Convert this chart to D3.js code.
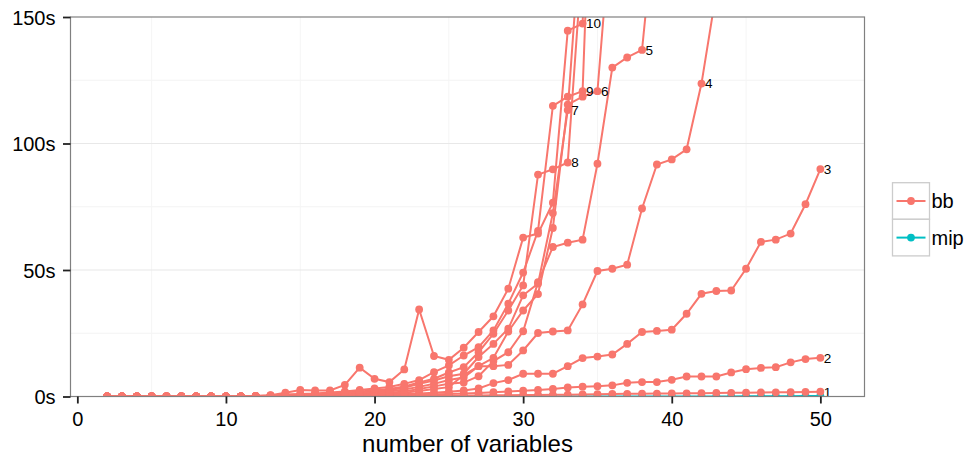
<!DOCTYPE html>
<html><head><meta charset="utf-8">
<script src="https://cdn.jsdelivr.net/npm/d3@7"></script>
<style>
body{margin:0;background:#fff}
svg{display:block}
text{font-family:"Liberation Sans",Arial,Helvetica,sans-serif}
</style>
</head><body>
<svg id="c" width="971" height="457"></svg>
<script>
// ---- data ----
const xStart = 2;                       // every series starts at 2 variables
const xTicks = [0, 10, 20, 30, 40, 50];
const xMinor = [5, 15, 25, 35, 45];
const yTicks = [0, 50, 100, 150];
const yTickLabels = ["0s", "50s", "100s", "150s"];
const yMinor = [25, 75, 125];
const solvers = ["bb", "mip"];
const xTitle = "number of variables";

// bb solver times (seconds) for x = 2,3,4,...
const bb1 = [0,0,0,0,0,0,0,0,0,0,0,0.01,0.02,0.03,0.05,0.07,0.1,0.12,0.15,0.18,0.2,0.25,0.3,0.32,0.35,0.4,0.45,0.5,0.6,0.62,0.65,0.7,0.8,0.9,1.0,1.05,1.1,1.15,1.2,1.25,1.3,1.4,1.45,1.5,1.6,1.65,1.7,1.8,1.9];
const bb2 = [0,0,0,0,0,0,0,0,0,0.02,0.03,0.05,0.08,0.1,0.15,0.2,0.25,0.3,0.4,0.5,0.6,0.75,0.9,1.0,1.2,1.4,1.7,2.0,2.3,2.6,3.0,3.6,3.9,4.1,4.4,5.4,5.7,5.7,6.6,7.9,7.9,7.9,9.5,10.8,11.3,11.6,13.5,14.8,15.3];
const bb3 = [0,0,0,0,0,0,0,0,0,0,0,0.05,0.1,0.15,0.2,0.3,0.4,0.5,0.6,0.7,0.9,1.2,1.5,1.9,2.4,3.2,5.3,6.5,9.0,9.0,9.0,12.0,15.2,15.8,16.6,20.8,25.5,25.9,26.4,32.7,40.6,41.7,41.9,50.5,61.1,62.0,64.4,76.0,89.9];
const bb4 = [0,0,0,0,0,0,0,0,0,0,0.05,0.1,0.2,0.3,0.4,0.5,0.6,0.75,0.9,1.1,1.5,2.2,3.0,3.7,8.5,12.0,12.0,12.5,18.2,25.1,25.7,26.1,36.4,49.6,50.5,52.1,74.3,91.7,93.7,97.7,123.7,160];
const bb5 = [0,0,0,0,0,0,0,0,0,0,0.05,0.1,0.2,0.4,0.5,0.6,0.8,1.0,1.2,1.5,2.0,3.0,4.0,5.0,5.5,8.0,14.0,17.5,25.8,45.2,59.1,60.8,62.0,92.0,130,134,137,196];
const bb6 = [0,0,0,0,0,0,0,0,0,0,0.1,0.2,0.4,0.5,0.6,0.8,1.0,1.3,1.6,2.0,2.8,3.8,5.0,6.5,7.5,12.0,15.3,25.7,34.0,40.5,66.6,115.4,118.5,120.7,193];
const bb7 = [0,0,0,0,0,0,0,0,0,0,0.1,0.2,0.5,0.6,0.8,1.0,1.3,1.6,2.0,2.6,3.5,5.0,6.3,8.0,9.0,15.6,20.8,26.8,40.0,44.6,72.5,113.2,195];
const bb8 = [0,0,0,0,0,0,0,0,0,0,0.15,0.3,0.6,0.8,1.0,1.3,1.6,2.0,2.5,3.0,4.0,5.5,7.0,9.5,11.6,17.5,24.8,34.0,43.9,87.7,89.8,92.5,175];
const bb9 = [0,0,0,0,0,0,0,0,0,0,0.2,0.4,0.8,1.0,1.2,1.6,2.0,2.6,3.2,3.8,5.0,6.5,9.6,12.3,16.2,19.5,26.1,36.7,49.0,65.5,114.9,118.5,120.7,280];
const bb10 = [0,0,0,0,0,0,0,0,0,0,0.2,0.5,1.5,2.6,2.4,2.4,4.6,11.4,7.0,5.7,10.7,34.4,16.0,14.5,19.3,25.5,31.7,42.6,62.8,64.4,76.6,144.6,147.4,300];
const bbSeries = [bb1, bb2, bb3, bb4, bb5, bb6, bb7, bb8, bb9, bb10];
const bbNames = ["1","2","3","4","5","6","7","8","9","10"];
// mip solver times (seconds), x = 2..50
const mip1 = [0,0,0,0,0,0,0,0,0,0,0,0,0,0,0,0,0,0,0,0,0,0,0,0,0,0,0,0,0,0,0,0,0,0,0,0,0,0,0,0,0,0,0,0.05,0.07,0.1,0.12,0.15,0.2];

// ---- layout ----
const colors = {bb: "#F8766D", mip: "#00BFC4"};
const P = {left: 70.5, right: 864.5, top: 17, bottom: 396.5};
const svg = d3.select("#c");
const x = d3.scaleLinear().domain([-0.46, 52.97]).range([P.left, P.right]);
const y = d3.scaleLinear().domain([0, 150]).range([P.bottom, P.top]);

svg.append("defs").append("clipPath").attr("id", "pc")
  .append("rect").attr("x", P.left).attr("y", P.top)
  .attr("width", P.right - P.left).attr("height", P.bottom - P.top);

// grid
const g = svg.append("g");
g.selectAll(".hm").data(yMinor).join("line")
  .attr("x1", P.left).attr("x2", P.right)
  .attr("y1", d => y(d)).attr("y2", d => y(d))
  .attr("stroke", "#F3F3F3").attr("stroke-width", 1);
g.selectAll(".vm").data(xMinor).join("line")
  .attr("y1", P.top).attr("y2", P.bottom)
  .attr("x1", d => x(d)).attr("x2", d => x(d))
  .attr("stroke", "#F5F5F5").attr("stroke-width", 1);
g.selectAll(".hM").data(yTicks.slice(1, -1)).join("line")
  .attr("x1", P.left).attr("x2", P.right)
  .attr("y1", d => y(d)).attr("y2", d => y(d))
  .attr("stroke", "#E8E8E8").attr("stroke-width", 1.1);

// data
const toPts = arr => arr.map((v, i) => ({x: xStart + i, y: v}));
const line = d3.line().x(d => x(d.x)).y(d => y(d.y));
const plot = svg.append("g").attr("clip-path", "url(#pc)");
const mipPts = toPts(mip1);
const bbPts = bbSeries.map(toPts);

plot.append("path").attr("d", line(mipPts)).attr("fill", "none")
  .attr("stroke", colors.mip).attr("stroke-width", 2);
bbPts.forEach(p => plot.append("path").attr("d", line(p)).attr("fill", "none")
  .attr("stroke", colors.bb).attr("stroke-width", 2));
plot.selectAll(".mp").data(mipPts).join("circle")
  .attr("cx", d => x(d.x)).attr("cy", d => y(d.y)).attr("r", 3.9).attr("fill", colors.mip);
bbPts.forEach(p => plot.selectAll(null).data(p).join("circle")
  .attr("cx", d => x(d.x)).attr("cy", d => y(d.y)).attr("r", 3.9).attr("fill", colors.bb));

// series labels at last point below the top limit
bbPts.forEach((p, i) => {
  const inside = p.filter(d => d.y <= 150);
  const last = inside[inside.length - 1];
  svg.append("text").attr("x", x(last.x) + 3.5).attr("y", y(last.y))
    .attr("dy", "0.36em").attr("font-size", 13.5).attr("fill", "#000")
    .text(bbNames[i]);
});

// panel border
svg.append("rect").attr("x", P.left).attr("y", P.top)
  .attr("width", P.right - P.left).attr("height", P.bottom - P.top)
  .attr("fill", "none").attr("stroke", "#808080").attr("stroke-width", 1.2);

// axes
const ax = svg.append("g").attr("transform", `translate(0,${P.bottom})`)
  .call(d3.axisBottom(x).tickValues(xTicks).tickSize(7).tickPadding(8.4));
const ay = svg.append("g").attr("transform", `translate(${P.left},0)`)
  .call(d3.axisLeft(y).tickValues(yTicks).tickSize(7.5).tickPadding(7.5)
    .tickFormat((d, i) => yTickLabels[i]));
[ax, ay].forEach(a => {
  a.select(".domain").remove();
  a.selectAll(".tick line").attr("stroke", "#222").attr("stroke-width", 1.8);
  a.selectAll(".tick text").attr("font-size", 20).attr("fill", "#000")
    .attr("font-family", '"Liberation Sans",Arial,sans-serif');
});
ay.selectAll(".tick text").attr("dy", "0.36em");

svg.append("text").attr("x", (P.left + P.right) / 2).attr("y", 452)
  .attr("text-anchor", "middle").attr("font-size", 24).attr("fill", "#000")
  .text(xTitle);

// legend
const lg = svg.append("g");
solvers.forEach((s, i) => {
  const ky = 182.7 + i * 36.6;
  lg.append("rect").attr("x", 892.5).attr("y", ky).attr("width", 37).attr("height", 36.6)
    .attr("fill", "#fff").attr("stroke", "#CCCCCC").attr("stroke-width", 1.3);
  const cy = ky + 18.3;
  lg.append("line").attr("x1", 896.5).attr("x2", 925.5).attr("y1", cy).attr("y2", cy)
    .attr("stroke", colors[s]).attr("stroke-width", 2);
  lg.append("circle").attr("cx", 911).attr("cy", cy).attr("r", 3.9).attr("fill", colors[s]);
  lg.append("text").attr("x", 931.5).attr("y", cy + 7).attr("font-size", 20)
    .attr("fill", "#000").text(s);
});
</script>
</body></html>
